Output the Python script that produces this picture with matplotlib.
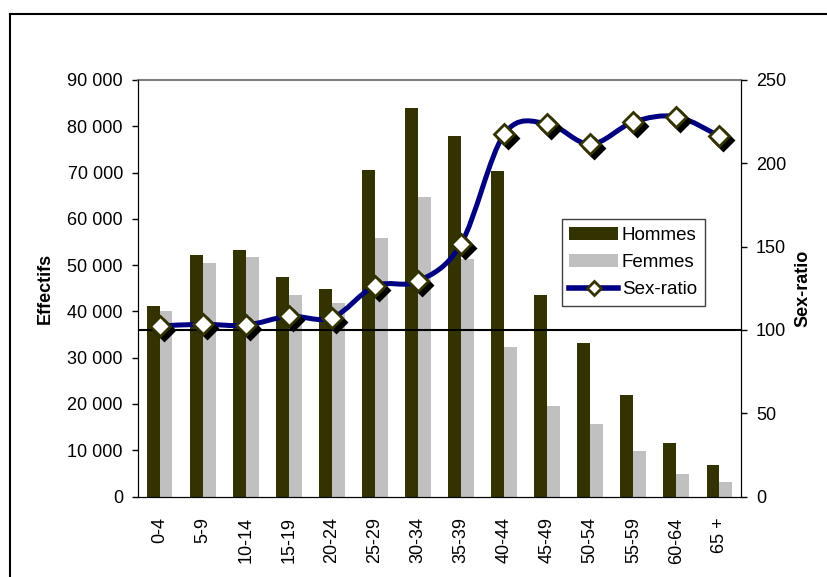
import matplotlib
matplotlib.use("Agg")
import matplotlib.pyplot as plt
import numpy as np
from matplotlib.path import Path
from matplotlib.patches import PathPatch
from matplotlib.lines import Line2D
import matplotlib.transforms as mtransforms

plt.rcParams['font.family'] = ['Liberation Sans', 'DejaVu Sans']
plt.rcParams['font.size'] = 13

# Données
categories = ["0-4", "5-9", "10-14", "15-19", "20-24", "25-29", "30-34",
              "35-39", "40-44", "45-49", "50-54", "55-59", "60-64", "65 +"]
hommes = [41100, 52100, 53200, 47400, 44800, 70500, 83900,
          77900, 70300, 43500, 33100, 21900, 11500, 6700]
femmes = [40000, 50400, 51700, 43500, 41800, 55800, 64700,
          51300, 32300, 19600, 15700, 9800, 4900, 3100]
sex_ratio = [102.3, 103.4, 102.8, 108.2, 107.2, 126.4, 129.2,
             151.6, 217.4, 223.8, 211.4, 224.8, 228.0, 216.3]
left_ticks = list(range(0, 90001, 10000))
right_ticks = list(range(0, 251, 50))

c_hommes = '#333300'
c_femmes = '#C0C0C0'
c_ratio = '#000080'

fig = plt.figure(figsize=(8.28, 5.77), dpi=100)
ax = fig.add_axes([138/828, 1-496.5/577, (741-138)/828, (496.5-80)/577])

x = np.arange(len(categories))
b1 = ax.bar(x - 0.15, hommes, 0.3, color=c_hommes, label='Hommes')
b2 = ax.bar(x + 0.15, femmes, 0.3, color=c_femmes, label='Femmes')
ax.set_xlim(-0.5, len(categories) - 0.5)
ax.set_ylim(0, 90000)
ax.set_yticks(left_ticks)
ax.set_yticklabels([f"{v:,}".replace(",", " ") for v in left_ticks])
ax.set_xticks(x)
ax.set_xticklabels(categories, rotation=90)
ax.tick_params(axis='x', length=0, pad=15)
ax.tick_params(axis='y', direction='out', length=4.3, width=1, pad=6.5)
for s in ['left', 'bottom']:
    ax.spines[s].set_color('black')
ax.spines['top'].set_color('#808080')
ax.spines['top'].set_linewidth(1.5)

ax2 = ax.twinx()
ax2.set_ylim(0, 250)
ax2.set_yticks(right_ticks)
ax2.tick_params(axis='y', direction='out', length=4.3, width=1, pad=6.5)
ax2.spines['top'].set_visible(False)
ax2.axhline(100, color='black', lw=1.5)

# courbe lissée (Bezier type Excel)
pts = np.column_stack([x, sex_ratio]).astype(float)
n = len(pts)
verts = [pts[0]]
codes = [Path.MOVETO]
for i in range(n - 1):
    p0 = pts[i - 1] if i > 0 else pts[i]
    p1 = pts[i]
    p2 = pts[i + 1]
    p3 = pts[i + 2] if i + 2 < n else pts[i + 1]
    verts += [p1 + (p2 - p0) / 6, p2 - (p3 - p1) / 6, p2]
    codes += [Path.CURVE4] * 3
ax2.add_patch(PathPatch(Path(verts, codes), facecolor='none', edgecolor=c_ratio,
                        lw=3.6, capstyle='round', joinstyle='round'))

shadow = mtransforms.offset_copy(ax2.transData, fig=fig, x=4, y=-4, units='dots')
ax2.plot(x, sex_ratio, ls='none', marker='D', ms=10, mfc='black', mec='black',
         mew=2, transform=shadow)
ax2.plot(x, sex_ratio, ls='none', marker='D', ms=10, mfc='white', mec=c_hommes, mew=2)

proxy = Line2D([], [], color=c_ratio, lw=4, marker='D', ms=7, mfc='white',
               mec=c_hommes, mew=2)
leg = fig.legend([b1, b2, proxy], ['Hommes', 'Femmes', 'Sex-ratio'],
                 loc='upper left', bbox_to_anchor=(562/828, 1-219/577),
                 bbox_transform=fig.transFigure, borderaxespad=0,
                 fancybox=False, edgecolor='#404040', framealpha=1,
                 fontsize=13.5, handlelength=2.6, handletextpad=0.2,
                 labelspacing=0.55, borderpad=0.4)
leg.get_frame().set_linewidth(1)

fig.text(45/828, 1-288/577, 'Effectifs', rotation=90, ha='center', va='center',
         fontweight='bold')
fig.text(803/828, 1-288/577, 'Sex-ratio', rotation=90, ha='center', va='center',
         fontweight='bold')

# cadre du graphique
fig.add_artist(Line2D([10/828, 10/828], [0, 1-14/577], transform=fig.transFigure,
                      color='black', lw=1.5))
fig.add_artist(Line2D([10/828, 1], [1-14/577, 1-14/577], transform=fig.transFigure,
                      color='black', lw=1.5))

fig.savefig('out.png', dpi=100)
